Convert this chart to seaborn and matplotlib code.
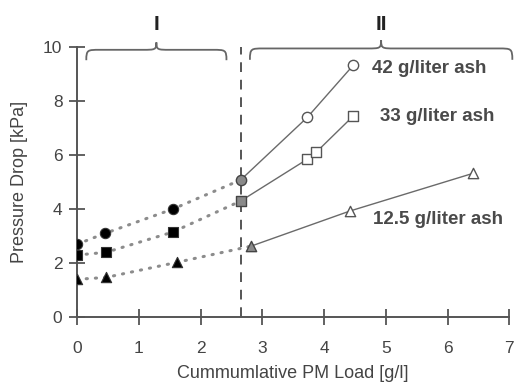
import matplotlib
matplotlib.use("Agg")
import matplotlib.pyplot as plt
from matplotlib.path import Path
from matplotlib.patches import PathPatch
import numpy as np
import pandas as pd
import seaborn as sns

sns.set_style("white")
plt.rcParams["font.family"] = ["Liberation Sans", "DejaVu Sans"]

# ---------- data ----------
# phase I (filled markers, dotted lines)
load_42_I = [0.0, 0.45, 1.55]
dp_42_I = [2.7, 3.1, 4.0]
load_33_I = [0.0, 0.47, 1.55]
dp_33_I = [2.3, 2.4, 3.15]
load_12_I = [0.0, 0.47, 1.62]
dp_12_I = [1.4, 1.47, 2.03]

# transition points (grey)
load_42_T, dp_42_T = 2.65, 5.08
load_33_T, dp_33_T = 2.65, 4.3
load_12_T, dp_12_T = 2.82, 2.63

# phase II (open markers, solid lines)
load_42_II = [3.73, 4.47]
dp_42_II = [7.4, 9.32]
load_33_II = [3.73, 3.87, 4.47]
dp_33_II = [5.85, 6.1, 7.44]
load_12_II = [4.42, 6.42]
dp_12_II = [3.93, 5.33]

labels = ["42 g/liter ash", "33 g/liter ash", "12.5 g/liter ash"]
label_x = [4.78, 4.9, 4.8]
label_y = [9.22, 7.44, 3.63]
markers = ["o", "s", "^"]
phase_split = 2.65
brace_I = (0.15, 2.42)
brace_II = (2.8, 7.05)

series = [
    (load_42_I, dp_42_I, load_42_T, dp_42_T, load_42_II, dp_42_II),
    (load_33_I, dp_33_I, load_33_T, dp_33_T, load_33_II, dp_33_II),
    (load_12_I, dp_12_I, load_12_T, dp_12_T, load_12_II, dp_12_II),
]

fig = plt.figure(figsize=(5.17, 3.83), dpi=100)
ax = fig.add_axes([0.149, 0.172, 0.836, 0.705])

line_c = "#6a6a6a"
for (xI, yI, xT, yT, xII, yII), mk in zip(series, markers):
    dI = pd.DataFrame({"x": xI + [xT], "y": yI + [yT]})
    dII = pd.DataFrame({"x": [xT] + xII, "y": [yT] + yII})
    sns.lineplot(data=dI, x="x", y="y", ax=ax, sort=False, estimator=None,
                 color="#8c8c8c", lw=2.2, zorder=2)
    ax.lines[-1].set_linestyle((0, (0.4, 2.6)))
    ax.lines[-1].set_dash_capstyle("round")
    sns.lineplot(data=dII, x="x", y="y", ax=ax, sort=False, estimator=None,
                 color=line_c, lw=1.0, zorder=2)
    ms = 55 if mk != "s" else 45
    sns.scatterplot(x=xI, y=yI, ax=ax, marker=mk, s=ms, color="black",
                    edgecolor="#333333", linewidth=0.8, zorder=4)
    sns.scatterplot(x=[xT], y=[yT], ax=ax, marker=mk, s=ms, color="#8a8a8a",
                    edgecolor="#444444", linewidth=1.0, zorder=4)
    sns.scatterplot(x=xII, y=yII, ax=ax, marker=mk, s=ms, color="white",
                    edgecolor="#555555", linewidth=1.0, zorder=4)

# phase boundary
ax.plot([phase_split, phase_split], [0, 10], ls=(0, (5, 4)), color="#555555",
        lw=1.4, zorder=1, clip_on=False)

# text labels
txt_c = "#4a4a4a"
for lab, lx, ly in zip(labels, label_x, label_y):
    ax.text(lx, ly, lab, fontsize=13.5, color=txt_c, va="center",
            fontweight="bold")


def brace(ax, x0, x1, y, h):
    xm = (x0 + x1) / 2
    w = 0.22
    verts = [
        (x0, y - h * 0.7),
        (x0, y), (x0 + 0.02, y), (x0 + w, y),
        (xm - w, y),
        (xm - 0.02, y), (xm, y), (xm, y + h * 0.5),
        (xm, y), (xm + 0.02, y), (xm + w, y),
        (x1 - w, y),
        (x1 - 0.02, y), (x1, y), (x1, y - h * 0.7),
    ]
    codes = [Path.MOVETO, Path.CURVE4, Path.CURVE4, Path.CURVE4, Path.LINETO,
             Path.CURVE4, Path.CURVE4, Path.CURVE4,
             Path.CURVE4, Path.CURVE4, Path.CURVE4, Path.LINETO,
             Path.CURVE4, Path.CURVE4, Path.CURVE4]
    ax.add_patch(PathPatch(Path(verts, codes), fill=False, ec="#666666",
                           lw=1.3, clip_on=False))


brace(ax, brace_I[0], brace_I[1], 9.9, 0.55)
brace(ax, brace_II[0], brace_II[1], 9.95, 0.6)
ax.text(sum(brace_I) / 2, 10.85, "I", ha="center", va="center",
        fontsize=15, fontweight="bold", color="#222222")
ax.text(sum(brace_II) / 2, 10.85, "II", ha="center", va="center",
        fontsize=15, fontweight="bold", color="#222222")

ax.set_xlim(0, 7)
ax.set_ylim(0, 10)
ax.set_xticks(range(0, 8))
ax.set_yticks(range(0, 11, 2))
ax.tick_params(bottom=True, left=True, direction="inout", length=11,
               width=1.3, color="#555555", labelsize=12.5,
               labelcolor="#444444")
ax.tick_params(axis="x", pad=12)
ax.tick_params(axis="y", pad=5)
for s in ["top", "right"]:
    ax.spines[s].set_visible(False)
for s in ["left", "bottom"]:
    ax.spines[s].set_color("#555555")
    ax.spines[s].set_linewidth(1.4)
ax.set_xlabel("Cummumlative PM Load [g/l]", fontsize=13, color="#444444",
              labelpad=6)
ax.set_ylabel("Pressure Drop [kPa]", fontsize=13, color="#444444",
              labelpad=11)

fig.savefig("out.png", dpi=100)
